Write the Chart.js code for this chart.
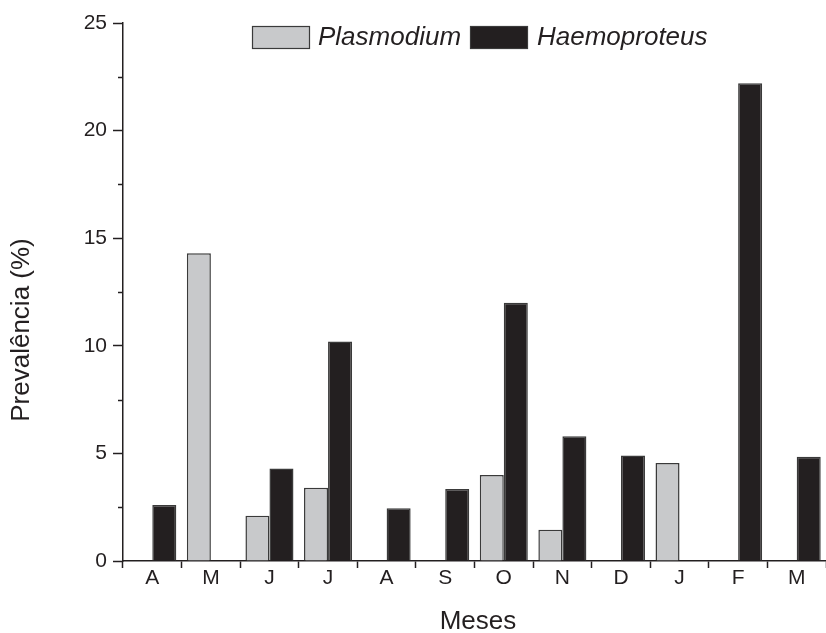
<!DOCTYPE html>
<html>
<head>
<meta charset="utf-8">
<script src="https://cdn.jsdelivr.net/npm/chart.js@4/dist/chart.umd.min.js"></script>
<style>
  html, body { margin: 0; padding: 0; background: #fff; }
  #wrap { width: 826px; height: 633px; }
</style>
</head>
<body>
<div id="wrap"><canvas id="ch"></canvas></div>
<script>
  // Meses (abril a março)
  const meses = ['A', 'M', 'J', 'J', 'A', 'S', 'O', 'N', 'D', 'J', 'F', 'M'];
  const plasmodium = [0, 14.3, 2.1, 3.4, 0, 0, 4.0, 1.45, 0, 4.55, 0, 0];
  const haemoproteus = [2.6, 0, 4.3, 10.2, 2.45, 3.35, 12.0, 5.8, 4.9, 0, 22.2, 4.85];
  const minorTicks = [2.5, 7.5, 12.5, 17.5, 22.5];

  const ink = '#231f20';
  const font = "'Liberation Sans', Arial, sans-serif";

  // títulos dos eixos, legenda e ticks menores
  const extras = {
    id: 'extras',
    afterDraw(chart) {
      const c = chart.ctx;
      const y = chart.scales.y;
      const area = chart.chartArea;
      c.save();
      c.strokeStyle = ink;
      c.lineWidth = 1.5;
      minorTicks.forEach(v => {
        const py = Math.round(y.getPixelForValue(v)) + 0.5;
        c.beginPath();
        c.moveTo(area.left - 5, py);
        c.lineTo(area.left, py);
        c.stroke();
      });

      // legenda
      const ds = chart.data.datasets;
      const items = [{ x: 252, tx: 318 }, { x: 470, tx: 537 }];
      c.font = 'italic 26px ' + font;
      c.textAlign = 'left';
      c.textBaseline = 'middle';
      items.forEach((it, i) => {
        c.fillStyle = ds[i].backgroundColor;
        c.fillRect(it.x, 26, 58, 23);
        c.lineWidth = 1.2;
        c.strokeStyle = '#3a3a3a';
        c.strokeRect(it.x + 0.5, 26.5, 57, 22);
        c.fillStyle = ink;
        c.fillText(ds[i].label, it.tx, 38);
      });

      c.fillStyle = ink;
      c.font = '26px ' + font;
      c.textAlign = 'center';
      c.textBaseline = 'middle';
      c.fillText('Meses', 478, 622);
      c.translate(22, 330);
      c.rotate(-Math.PI / 2);
      c.fillText('Prevalência (%)', 0, 0);
      c.restore();
    },
  };

  new Chart(document.getElementById('ch'), {
    type: 'bar',
    data: {
      labels: meses,
      datasets: [
        {
          label: 'Plasmodium',
          data: plasmodium,
          backgroundColor: '#c8c9cb',
          borderColor: '#3a3a3a',
          borderWidth: 1.5,
        },
        {
          label: 'Haemoproteus',
          data: haemoproteus,
          backgroundColor: ink,
          borderColor: '#3a3a3a',
          borderWidth: 1.5,
        },
      ],
    },
    options: {
      responsive: true, maintainAspectRatio: false,
      animation: false,
      datasets: { bar: { categoryPercentage: 0.82, barPercentage: 1.0 } },
      layout: { padding: { top: 23, right: 0, left: 0, bottom: 0 } },
      plugins: {
        tooltip: { enabled: false },
        legend: { display: false },
      },
      scales: {
        x: {
          afterFit: s => { s.height = 72; },
          grid: { offset: true, drawOnChartArea: false, drawTicks: true, tickLength: 7, tickColor: ink, tickWidth: 1.5 },
          border: { display: true, color: ink, width: 1.5 },
          ticks: { color: ink, font: { family: font, size: 21 }, padding: -2 },
        },
        y: {
          min: 0, max: 25,
          afterFit: s => { s.width = 123; },
          grid: { drawOnChartArea: false, drawTicks: true, tickLength: 10, tickColor: ink, tickWidth: 1.5 },
          border: { display: true, color: ink, width: 1.5 },
          ticks: { stepSize: 5, color: ink, font: { family: font, size: 21 }, padding: 6 },
        },
      },
    },
    plugins: [extras],
  });
</script>
</body>
</html>
